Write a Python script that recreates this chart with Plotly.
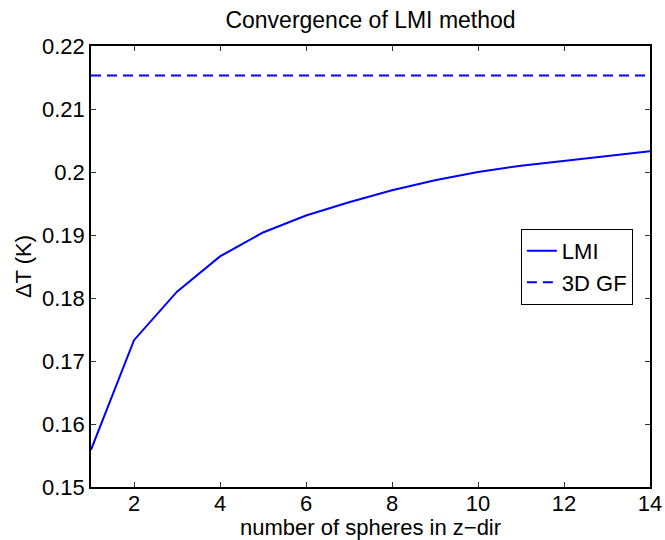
import plotly.graph_objects as go

n_spheres = list(range(1, 15))
lmi = [0.1559, 0.1733, 0.1810, 0.1866, 0.1904, 0.1931, 0.1952, 0.1971,
       0.1987, 0.2000, 0.2010, 0.2018, 0.2026, 0.2033]
gf3d_value = 0.2153
gf3d = [gf3d_value] * len(n_spheres)

x_ticks = [2, 4, 6, 8, 10, 12, 14]
y_ticks = [0.15, 0.16, 0.17, 0.18, 0.19, 0.2, 0.21, 0.22]
y_ticklabels = ["0.15", "0.16", "0.17", "0.18", "0.19", "0.2", "0.21", "0.22"]
x_title = "number of spheres in z\u2212dir"

FONT = "Liberation Sans, Arial, Helvetica, sans-serif"
FS = 22

fig = go.Figure()
fig.add_trace(go.Scatter(x=n_spheres, y=lmi, mode="lines", name="LMI",
                         line=dict(color="#0000ff", width=2)))
fig.add_trace(go.Scatter(x=n_spheres, y=gf3d, mode="lines", name="3D GF",
                         line=dict(color="#0000ff", width=2, dash="10px,6px")))

axis_common = dict(showline=True, linecolor="black", linewidth=1.5, mirror="ticks",
                   ticks="inside", ticklen=5, tickwidth=1, tickcolor="#333",
                   showgrid=False, zeroline=False, automargin=False,
                   tickfont=dict(family=FONT, size=FS, color="black"))

fig.update_layout(
    width=665, height=540,
    margin=dict(l=91, r=15, t=46, b=53),
    paper_bgcolor="white", plot_bgcolor="white",
    title=dict(text="Convergence of LMI method", x=0.5, xanchor="center",
               xref="paper",
               y=0.963, yanchor="middle",
               font=dict(family=FONT, size=23, color="black")),
    xaxis=dict(range=[1, 14], tickvals=x_ticks, ticklabelstandoff=-4,
               **axis_common),
    yaxis=dict(range=[0.15, 0.22], tickvals=y_ticks, ticktext=y_ticklabels,
               title=dict(text="\u0394T (K)", standoff=4,
                          font=dict(family=FONT, size=FS, color="black")),
               **axis_common),
    legend=dict(x=0.769, y=0.499, xanchor="left", yanchor="middle",
                bordercolor="black", borderwidth=1, bgcolor="white",
                font=dict(family=FONT, size=FS, color="black"),
                tracegroupgap=0, itemwidth=30),
    showlegend=True,
    annotations=[dict(text=x_title, xref="paper", yref="paper", x=0.5, y=-0.091,
                      xanchor="center", yanchor="middle", showarrow=False,
                      font=dict(family=FONT, size=FS, color="black"))],
)

fig.write_html("out.html")
